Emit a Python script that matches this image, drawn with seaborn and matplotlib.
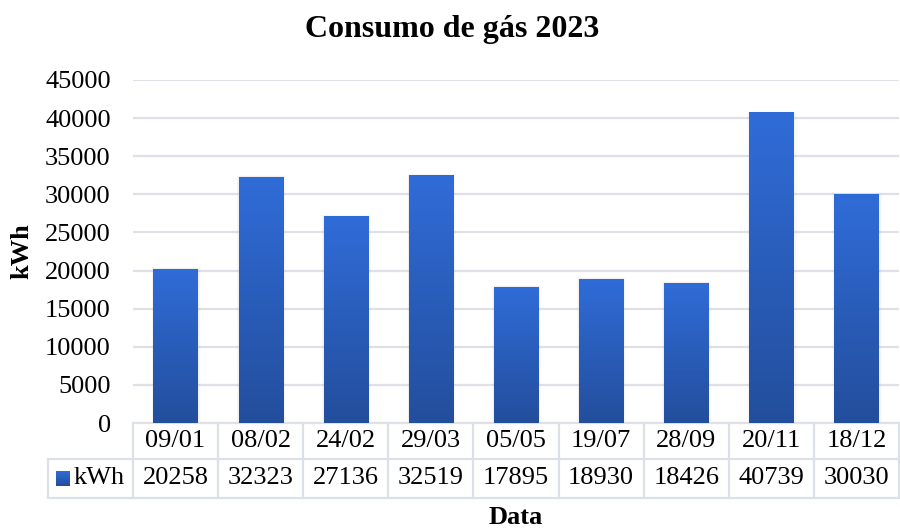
import matplotlib
matplotlib.use('Agg')
import matplotlib.pyplot as plt
import matplotlib.transforms as mtransforms
from matplotlib.patches import Rectangle
import seaborn as sns
import numpy as np
import pandas as pd

# ---- data ----
dates = ["09/01", "08/02", "24/02", "29/03", "05/05", "19/07", "28/09", "20/11", "18/12"]
kwh = [20258, 32323, 27136, 32519, 17895, 18930, 18426, 40739, 30030]
y_ticks = [0, 5000, 10000, 15000, 20000, 25000, 30000, 35000, 40000, 45000]
series_name = "kWh"
title = "Consumo de gás 2023"
x_label = "Data"
y_label = "kWh"

sns.set_theme(style="white")
plt.rcParams['font.family'] = ['Liberation Serif', 'DejaVu Serif']
plt.rcParams['text.color'] = 'black'
plt.rcParams['axes.labelcolor'] = 'black'
plt.rcParams['ytick.color'] = 'black'
plt.rcParams['xtick.color'] = 'black'

W, H = 900, 529
fig = plt.figure(figsize=(W / 100, H / 100), dpi=100)
ax_left, ax_right, ax_top, ax_bot = 133, 899, 80, 423
ax = fig.add_axes([ax_left / W, 1 - ax_bot / H, (ax_right - ax_left) / W, (ax_bot - ax_top) / H])

df = pd.DataFrame({"Data": dates, "kWh": kwh})
sns.barplot(data=df, x="Data", y="kWh", ax=ax, width=0.52, color="#2B5EBE",
            saturation=1, zorder=3, errorbar=None)

ax.set_xlim(-0.5, len(dates) - 0.5)
ax.set_ylim(y_ticks[0], y_ticks[-1])
ax.set_yticks(y_ticks)
ax.set_yticklabels([str(t) for t in y_ticks])

grid_c = "#DEE1E7"
ax.yaxis.grid(True, color=grid_c, lw=1.6, zorder=0)
ax.xaxis.grid(False)
ax.set_axisbelow(True)
for s in ["left", "right", "top"]:
    ax.spines[s].set_visible(False)
ax.spines["bottom"].set_color(grid_c)
ax.spines["bottom"].set_linewidth(1.6)
ax.tick_params(axis="y", length=0, pad=16, labelsize=19, colors="black")
ax.tick_params(axis="x", length=0, labelbottom=False)

# gradient fill for bars
top_c = np.array([48, 108, 216]) / 255
bot_c = np.array([35, 78, 156]) / 255
grad = np.linspace(0, 1, 256)[:, None]
grad_img = top_c[None, None, :] * (1 - grad[:, :, None]) + bot_c[None, None, :] * grad[:, :, None]

for p in list(ax.patches):
    x0, y0 = p.get_x(), p.get_y()
    w, h = p.get_width(), p.get_height()
    # soft shadow
    for k, a in enumerate([0.05, 0.04, 0.03]):
        dx = 0.012 * (k + 1)
        sh = Rectangle((x0 - dx * 0.6, y0), w + dx * 1.6, h + 60 * (k + 1),
                       facecolor="gray", edgecolor="none", alpha=a, zorder=2)
        ax.add_patch(sh)
    im = ax.imshow(grad_img, extent=[x0, x0 + w, y0, y0 + h], aspect="auto",
                   zorder=4, interpolation="bicubic")
    im.set_clip_path(p)
    p.set_facecolor("none")
    p.set_edgecolor("none")

ax.set_xlim(-0.5, len(dates) - 0.5)
ax.set_ylim(y_ticks[0], y_ticks[-1])

# ---- data table below axes ----
trans = mtransforms.blended_transform_factory(ax.transData, ax.transAxes)
ah = ax_bot - ax_top
r1 = -(459 - ax_bot) / ah
r2 = -(498 - ax_bot) / ah
line_c = "#DCE0E8"
n = len(dates)
ax.plot([-1.5, n - 0.5], [r1, r1], transform=trans, color=line_c, lw=1.6, clip_on=False)
ax.plot([-1.5, n - 0.5], [r2, r2], transform=trans, color=line_c, lw=1.6, clip_on=False)
for i in range(n + 1):
    ax.plot([i - 0.5, i - 0.5], [0, r2], transform=trans, color=line_c, lw=1.6, clip_on=False)
ax.plot([-1.5, -1.5], [r1, r2], transform=trans, color=line_c, lw=1.6, clip_on=False)

for i, (d, v) in enumerate(zip(dates, kwh)):
    ax.text(i, r1 / 2, d, transform=trans, ha="center", va="center", fontsize=19, color="black")
    ax.text(i, (r1 + r2) / 2, str(v), transform=trans, ha="center", va="center", fontsize=19,
            color="black")

# legend key
cw = (ax_right - ax_left) / n
kx = -1.5 + (55 - 47) / cw
kw = 14 / cw
ky_top = -(471 - ax_bot) / ah
ky_bot = -(486 - ax_bot) / ah
key = Rectangle((kx, ky_bot), kw, ky_top - ky_bot, transform=trans, facecolor="none",
                edgecolor="none", clip_on=False)
ax.add_patch(key)
kim = ax.imshow(grad_img, extent=[kx, kx + kw, ky_bot, ky_top], transform=trans,
                aspect="auto", zorder=5, clip_on=False)
kim.set_clip_path(key)
ax.text(-1.5 + (73 - 47) / cw, (r1 + r2) / 2, series_name, transform=trans,
        ha="left", va="center", fontsize=19, color="black")

ax.set_xlim(-0.5, len(dates) - 0.5)
ax.set_ylim(y_ticks[0], y_ticks[-1])

# labels & title
ax.set_xlabel(x_label, fontsize=19, fontweight="bold", color="black")
ax.xaxis.label.set(va="center", ha="center")
ax.xaxis.set_label_coords(0.5, -(518 - ax_bot) / ah)
ax.set_ylabel(y_label, fontsize=19, fontweight="bold", color="black")
ax.yaxis.label.set(va="center", ha="center")
ax.yaxis.set_label_coords((22 - ax_left) / (ax_right - ax_left), 0.5)
fig.text(452 / W, 1 - 30 / H, title, ha="center", va="center", fontsize=23,
         fontweight="bold", color="black")

fig.savefig("out.png", dpi=100)
